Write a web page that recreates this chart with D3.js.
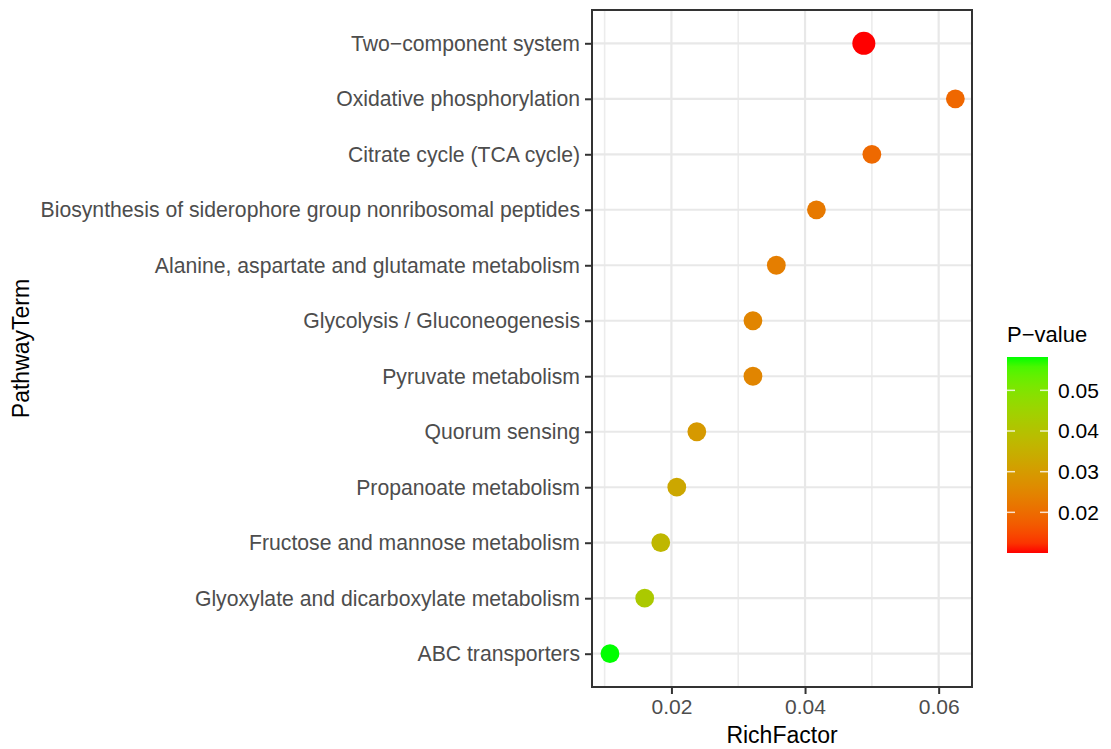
<!DOCTYPE html>
<html>
<head>
<meta charset="utf-8">
<script src="https://cdn.jsdelivr.net/npm/d3@7"></script>
<style>
  html, body { margin: 0; padding: 0; background: #ffffff; }
  svg { display: block; font-family: "Liberation Sans", Arial, sans-serif; }
</style>
</head>
<body>
<svg id="chart" width="1111" height="749"></svg>
<script>
// KEGG enrichment results, top to bottom
const pathways = [
  "Two\u2212component system",
  "Oxidative phosphorylation",
  "Citrate cycle (TCA cycle)",
  "Biosynthesis of siderophore group nonribosomal peptides",
  "Alanine, aspartate and glutamate metabolism",
  "Glycolysis / Gluconeogenesis",
  "Pyruvate metabolism",
  "Quorum sensing",
  "Propanoate metabolism",
  "Fructose and mannose metabolism",
  "Glyoxylate and dicarboxylate metabolism",
  "ABC transporters"
];
const richFactor = [0.0488, 0.0625, 0.0500, 0.0417, 0.0357, 0.0322, 0.0322, 0.0238, 0.0208, 0.0184, 0.0160, 0.0108];
const pValue     = [0.0100, 0.0190, 0.0195, 0.0225, 0.0235, 0.0250, 0.0250, 0.0295, 0.0330, 0.0370, 0.0420, 0.0582];
const geneCount  = [3, 2, 2, 2, 2, 2, 2, 2, 2, 2, 2, 2];

const xTicks = [0.02, 0.04, 0.06];
const xMinor = [0.01, 0.03, 0.05];
const legendTicks = [0.02, 0.03, 0.04, 0.05];

const svg = d3.select("#chart");

const panel = { left: 592, right: 972, top: 10, bottom: 687 };

const x = d3.scaleLinear().domain([0.00811, 0.06499]).range([panel.left, panel.right]);
const y = d3.scalePoint().domain(pathways).range([panel.top, panel.bottom]).padding(0.6);
const pExtent = d3.extent(pValue);
const color = d3.scaleLinear().domain(pExtent).range(["#ff0000", "#00ff00"]).interpolate(d3.interpolateLab);
const r = d3.scaleSqrt().domain([0, 3]).range([0, 11.5]);

const data = pathways.map((p, i) => ({ term: p, rf: richFactor[i], p: pValue[i], n: geneCount[i] }));

// panel grid
const grid = svg.append("g");
grid.selectAll("line.minor").data(xMinor).join("line")
  .attr("x1", d => x(d)).attr("x2", d => x(d))
  .attr("y1", panel.top).attr("y2", panel.bottom)
  .attr("stroke", "#ececec").attr("stroke-width", 1.6);
grid.selectAll("line.majx").data(xTicks).join("line")
  .attr("x1", d => x(d)).attr("x2", d => x(d))
  .attr("y1", panel.top).attr("y2", panel.bottom)
  .attr("stroke", "#e8e8e8").attr("stroke-width", 2.2);
grid.selectAll("line.majy").data(pathways).join("line")
  .attr("x1", panel.left).attr("x2", panel.right)
  .attr("y1", d => y(d)).attr("y2", d => y(d))
  .attr("stroke", "#e8e8e8").attr("stroke-width", 2.2);

// points
svg.append("g").selectAll("circle").data(data).join("circle")
  .attr("cx", d => x(d.rf))
  .attr("cy", d => y(d.term))
  .attr("r", d => r(d.n))
  .attr("fill", d => color(d.p));

// panel border
svg.append("rect")
  .attr("x", panel.left).attr("y", panel.top)
  .attr("width", panel.right - panel.left).attr("height", panel.bottom - panel.top)
  .attr("fill", "none").attr("stroke", "#333333").attr("stroke-width", 2);

// x axis
const xAxis = svg.append("g").attr("transform", `translate(0,${panel.bottom})`)
  .call(d3.axisBottom(x).tickValues(xTicks).tickFormat(d3.format(".2f")).tickSize(7).tickPadding(5));
xAxis.select(".domain").remove();
xAxis.selectAll(".tick line").attr("stroke", "#333333").attr("stroke-width", 2);
xAxis.selectAll(".tick text").attr("fill", "#4d4d4d").style("font-size", "21px")
  .style("font-family", "Liberation Sans, Arial, sans-serif");

// y axis
const yAxis = svg.append("g").attr("transform", `translate(${panel.left},0)`)
  .call(d3.axisLeft(y).tickSize(7).tickPadding(5));
yAxis.select(".domain").remove();
yAxis.selectAll(".tick line").attr("stroke", "#333333").attr("stroke-width", 2);
yAxis.selectAll(".tick text").attr("fill", "#4d4d4d").style("font-size", "21.2px")
  .style("font-family", "Liberation Sans, Arial, sans-serif");

// axis titles
svg.append("text")
  .attr("x", (panel.left + panel.right) / 2).attr("y", 743)
  .attr("text-anchor", "middle").attr("fill", "#000")
  .style("font-size", "23px").text("RichFactor");
svg.append("text")
  .attr("transform", `translate(29,${(panel.top + panel.bottom) / 2}) rotate(-90)`)
  .attr("text-anchor", "middle").attr("fill", "#000")
  .style("font-size", "23px").text("PathwayTerm");

// colour bar legend
const leg = { x: 1007, w: 41, top: 357, bottom: 553 };
const lp = d3.scaleLinear().domain(pExtent).range([leg.bottom, leg.top]);
const defs = svg.append("defs");
const grad = defs.append("linearGradient").attr("id", "pgrad")
  .attr("x1", 0).attr("y1", 1).attr("x2", 0).attr("y2", 0);
d3.range(0, 1.0001, 0.05).forEach(t => {
  grad.append("stop").attr("offset", t)
    .attr("stop-color", color(pExtent[0] + t * (pExtent[1] - pExtent[0])));
});
svg.append("rect")
  .attr("x", leg.x).attr("y", leg.top)
  .attr("width", leg.w).attr("height", leg.bottom - leg.top)
  .attr("fill", "url(#pgrad)");
const lt = svg.append("g");
lt.selectAll("line.l").data(legendTicks).join("line")
  .attr("x1", leg.x).attr("x2", leg.x + 8)
  .attr("y1", d => lp(d)).attr("y2", d => lp(d))
  .attr("stroke", "#ffffff").attr("stroke-width", 1.5).attr("opacity", 0.8);
lt.selectAll("line.r").data(legendTicks).join("line")
  .attr("x1", leg.x + leg.w - 8).attr("x2", leg.x + leg.w)
  .attr("y1", d => lp(d)).attr("y2", d => lp(d))
  .attr("stroke", "#ffffff").attr("stroke-width", 1.5).attr("opacity", 0.8);
lt.selectAll("text").data(legendTicks).join("text")
  .attr("x", leg.x + leg.w + 10).attr("y", d => lp(d)).attr("dy", "0.35em")
  .attr("fill", "#000").style("font-size", "21px")
  .text(d => d3.format(".2f")(d));
svg.append("text")
  .attr("x", leg.x).attr("y", 342)
  .attr("fill", "#000").style("font-size", "22px")
  .text("P\u2212value");
</script>
</body>
</html>
